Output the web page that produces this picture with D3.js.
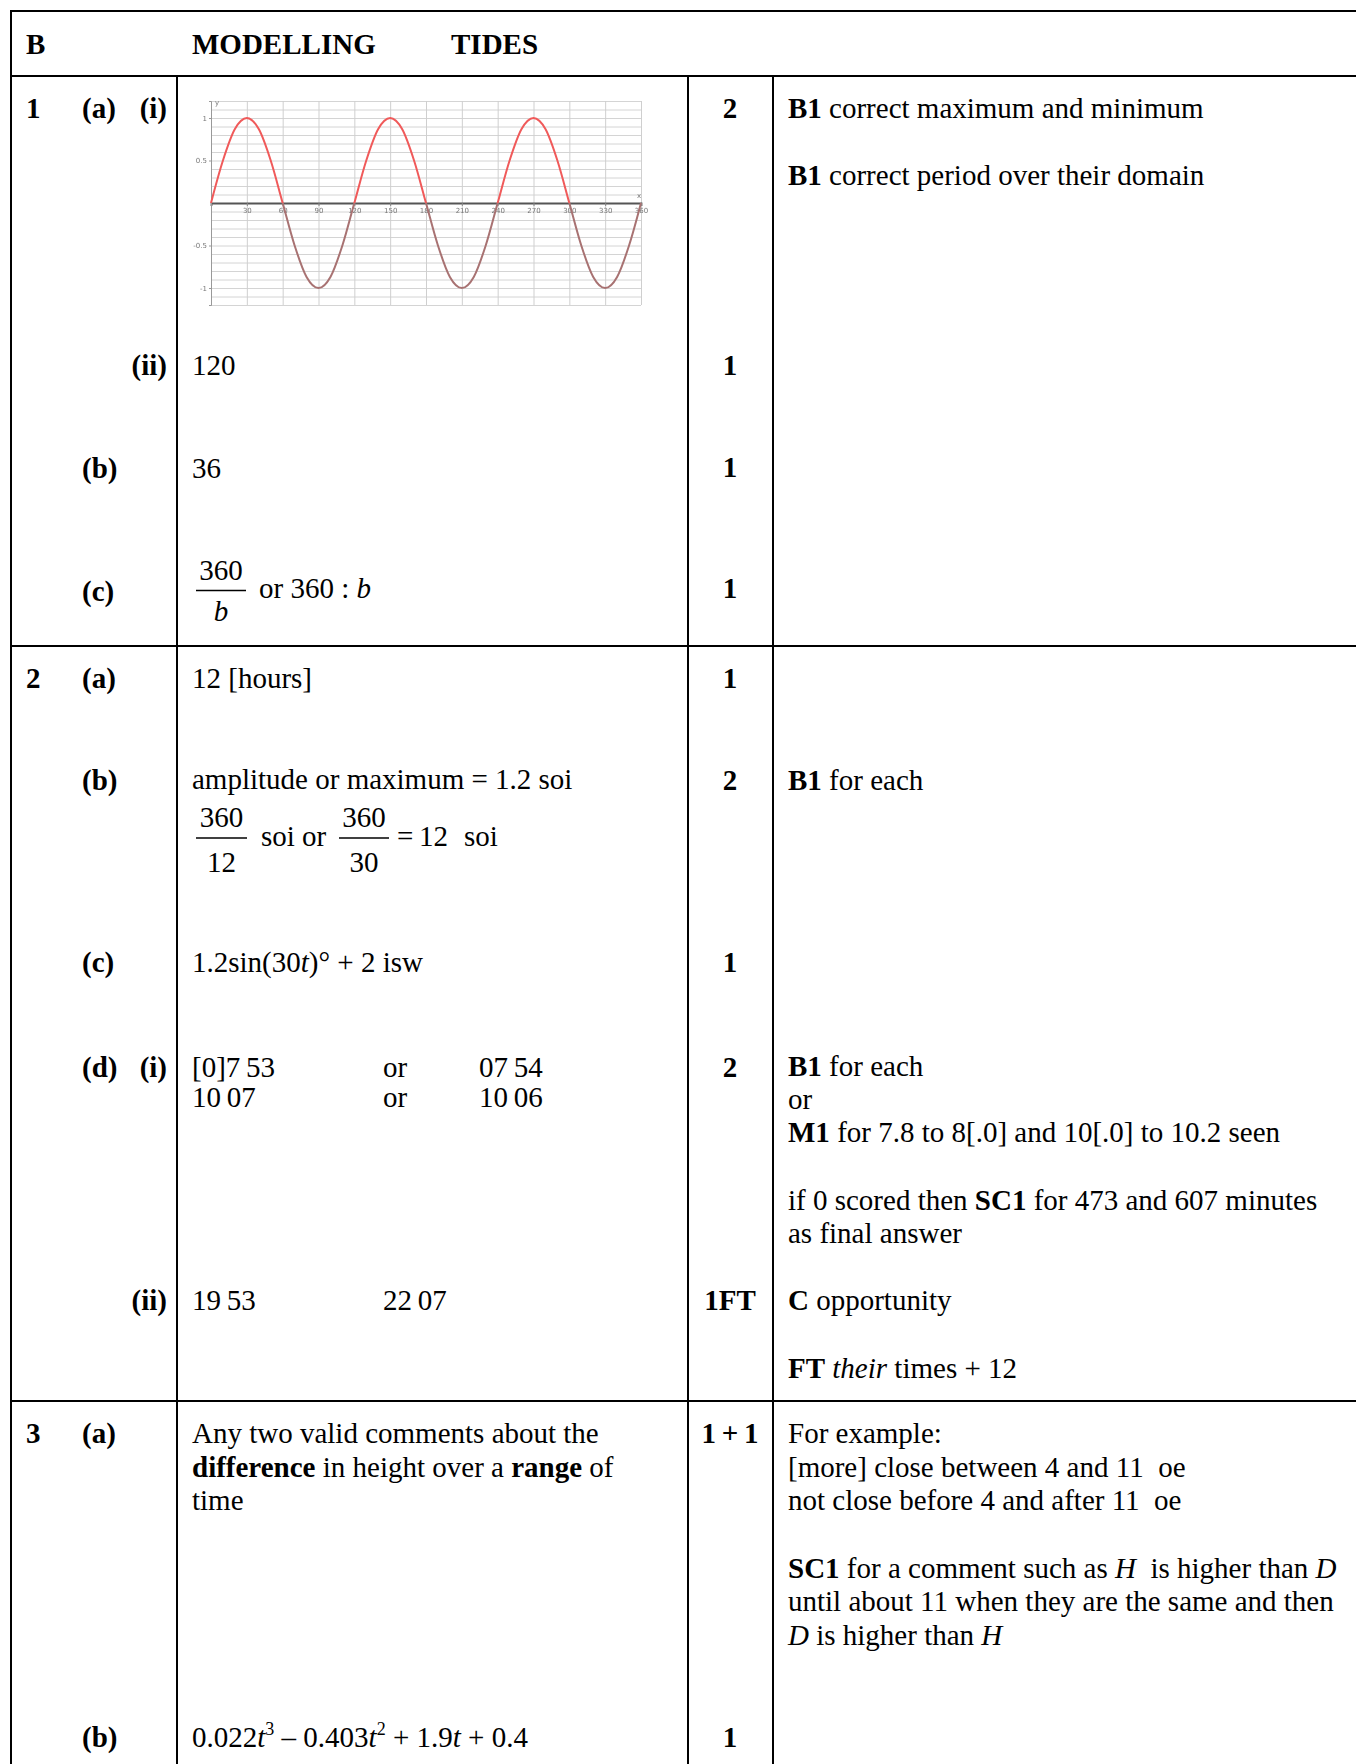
<!DOCTYPE html>
<html>
<head>
<meta charset="utf-8">
<script src="https://cdn.jsdelivr.net/npm/d3@7"></script>
<style>
  body { margin: 0; background: #fff; }
  text { font-family: "Liberation Serif", "Times New Roman", serif; font-size: 29px; fill: #000; white-space: pre; }
  .tiny text { font-family: "DejaVu Sans", sans-serif; font-size: 7px; fill: #777; }
</style>
</head>
<body>
<script>

// sine curve (t in degrees, height)
let tideT = [0,10,20,30,40,50,60,70,80,90,100,110,120,130,140,150,160,170,180,
             190,200,210,220,230,240,250,260,270,280,290,300,310,320,330,340,350,360];
let tideH = [0,0.5,0.87,1,0.87,0.5,0,-0.5,-0.87,-1,-0.87,-0.5,
             0,0.5,0.87,1,0.87,0.5,0,-0.5,-0.87,-1,-0.87,-0.5,
             0,0.5,0.87,1,0.87,0.5,0,-0.5,-0.87,-1,-0.87,-0.5,0];
let xTickLabels = [30,60,90,120,150,180,210,240,270,300,330,360];
let yTickLabels = [1,0.5,-0.5,-1];
let gridY = [-1.2,-1.1,-1,-0.9,-0.8,-0.7,-0.6,-0.5,-0.4,-0.3,-0.2,-0.1,0,
             0.1,0.2,0.3,0.4,0.5,0.6,0.7,0.8,0.9,1,1.1,1.2];
let gridX = [0,30,60,90,120,150,180,210,240,270,300,330,360];

let svg = d3.select("body")
.append("svg")
.attr("width", 1356)
.attr("height", 1764);

//////////////// table lines ////////////////
let hLines = [11, 76, 646, 1401];
let vLines = [[11, 11], [177, 76], [688, 76], [773, 76]];

hLines.forEach(y => {
  svg.append("line")
  .attr("x1", 10).attr("x2", 1356)
  .attr("y1", y).attr("y2", y)
  .style("stroke", "#000").style("stroke-width", 2);
});
vLines.forEach(v => {
  svg.append("line")
  .attr("x1", v[0]).attr("x2", v[0])
  .attr("y1", v[1]).attr("y2", 1764)
  .style("stroke", "#000").style("stroke-width", 2);
});

// text with bold / italic / superscript pieces
function rich(x, y, parts, anchor) {
  let t = svg.append("text")
  .attr("x", x)
  .attr("y", y)
  .attr("text-anchor", anchor || "start");
  let up = false;
  parts.forEach(p => {
    if (typeof p == "string") p = [p, ""];
    let s = t.append("tspan").text(p[0]);
    if (p[1].includes("b")) s.style("font-weight", "bold");
    if (p[1].includes("i")) s.style("font-style", "italic");
    if (p[1].includes("s")) { s.attr("dy", -12).style("font-size", "18px"); up = true; }
    else if (up) { s.attr("dy", 12); up = false; }
  });
  return t;
}

// stacked fraction
function frac(x1, x2, num, den, yNum, yBar, yDen, denStyle) {
  let cx = (x1 + x2) / 2;
  rich(cx, yNum, [num], "middle");
  svg.append("line")
  .attr("x1", x1).attr("x2", x2)
  .attr("y1", yBar).attr("y2", yBar)
  .style("stroke", "#000").style("stroke-width", 1.5);
  rich(cx, yDen, [[den, denStyle || ""]], "middle");
}

//header
rich(26, 54, [["B", "b"]]);
rich(192, 54, [["MODELLING", "b"]]);
rich(451, 54, [["TIDES", "b"]]);

//question labels
let qLabels = [
  ["1", 26, 118], ["(a)", 82, 118], ["(i)", 167, 118, "end"],
  ["(ii)", 167, 375, "end"], ["(b)", 82, 478], ["(c)", 82, 601],
  ["2", 26, 688], ["(a)", 82, 688], ["(b)", 82, 790], ["(c)", 82, 972],
  ["(d)", 82, 1077], ["(i)", 167, 1077, "end"], ["(ii)", 167, 1310, "end"],
  ["3", 26, 1443], ["(a)", 82, 1443], ["(b)", 82, 1747]
];
qLabels.forEach(q => rich(q[1], q[2], [[q[0], "b"]], q[3]));

//marks column
let marks = [
  ["2", 118], ["1", 375], ["1", 477], ["1", 598],
  ["1", 688], ["2", 790], ["1", 972], ["2", 1077], ["1FT", 1310],
  ["1\u2009+\u20091", 1443], ["1", 1747]
];
marks.forEach(m => rich(730, m[1], [[m[0], "b"]], "middle"));

//answers
rich(192, 375, ["120"]);
rich(192, 478, ["36"]);
frac(196, 246, "360", "b", 580, 590.5, 621, "i");
rich(259, 598, ["or 360 : ", ["b", "i"]]);
rich(192, 688, ["12 [hours]"]);
rich(192, 789, ["amplitude or maximum = 1.2 soi"]);
frac(196, 247, "360", "12", 827, 838, 872);
rich(261, 846, ["soi or"]);
frac(339, 389, "360", "30", 827, 838, 872);
rich(397, 846, ["="]);
rich(419, 846, ["12"]);
rich(464, 846, ["soi"]);
rich(192, 972, ["1.2sin(30", ["t", "i"], ")° + 2 isw"]);
rich(192, 1077, ["[0]7\u200953"]);
rich(383, 1077, ["or"]);
rich(479, 1077, ["07\u200954"]);
rich(192, 1107, ["10\u200907"]);
rich(383, 1107, ["or"]);
rich(479, 1107, ["10\u200906"]);
rich(192, 1310, ["19\u200953"]);
rich(383, 1310, ["22\u200907"]);
rich(192, 1443, ["Any two valid comments about the"]);
rich(192, 1477, [["difference", "b"], " in height over a ", ["range", "b"], " of"]);
rich(192, 1510, ["time"]);
rich(192, 1747, ["0.022", ["t", "i"], ["3", "s"], " \u2013 0.403", ["t", "i"], ["2", "s"],
                 " + 1.9", ["t", "i"], " + 0.4"]);

//guidance column
let guide = [
  [118, [["B1", "b"], " correct maximum and minimum"]],
  [185, [["B1", "b"], " correct period over their domain"]],
  [790, [["B1", "b"], " for each"]],
  [1076, [["B1", "b"], " for each"]],
  [1109, ["or"]],
  [1142, [["M1", "b"], " for 7.8 to 8[.0] and 10[.0] to 10.2 seen"]],
  [1210, ["if 0 scored then ", ["SC1", "b"], " for 473 and 607 minutes"]],
  [1243, ["as final answer"]],
  [1310, [["C", "b"], " opportunity"]],
  [1378, [["FT", "b"], " ", ["their", "i"], " times + 12"]],
  [1443, ["For example:"]],
  [1477, ["[more] close between 4 and 11  oe"]],
  [1510, ["not close before 4 and after 11  oe"]],
  [1578, [["SC1", "b"], " for a comment such as ", ["H", "i"], "  is higher than ", ["D", "i"]]],
  [1611, ["until about 11 when they are the same and then"]],
  [1645, [["D", "i"], " is higher than ", ["H", "i"]]]
];
guide.forEach(g => rich(788, g[0], g[1]));

//////////////// small graph ////////////////
let x1Scale = d3.scaleLinear()
.domain([0, 360])
.range([211, 641]);

let y1Scale = d3.scaleLinear()
.domain([-1.2, 1.2])
.range([305, 101]);

svg.append("defs")
.append("filter")
.attr("id", "soft")
.append("feGaussianBlur")
.attr("stdDeviation", 0.6);

let graph = svg.append("g")
.attr("class", "tiny")
.attr("filter", "url(#soft)");

//grid
graph.append("g")
.attr("transform", "translate(211, 0)")
.call(d3.axisLeft(y1Scale).tickValues(gridY).tickSize(-430).tickFormat(""))
.call(g => g.select(".domain").remove())
.call(g => g.selectAll("line").style("stroke", "#d4d4d4"));

graph.append("g")
.attr("transform", "translate(0, 305)")
.call(d3.axisBottom(x1Scale).tickValues(gridX).tickSize(-204).tickFormat(""))
.call(g => g.select(".domain").remove())
.call(g => g.selectAll("line").style("stroke", "#cfcfcf"));

//axes
let xAxis = graph.append("g")
.attr("transform", "translate(0, " + y1Scale(0) + ")")
.call(d3.axisBottom(x1Scale).tickValues(xTickLabels).tickSize(3).tickPadding(2));
xAxis.select(".domain").style("stroke", "#555").style("stroke-width", 1.8);
xAxis.selectAll("line").style("stroke", "#888");

let yAxis = graph.append("g")
.attr("transform", "translate(211, 0)")
.call(d3.axisLeft(y1Scale).tickValues(yTickLabels).tickFormat(d => d).tickSize(2).tickPadding(2));
yAxis.select(".domain").style("stroke", "#999");
yAxis.selectAll("line").style("stroke", "#999");

graph.append("text").attr("x", 215).attr("y", 105).text("y");
graph.append("text").attr("x", 637).attr("y", 198).text("x");

//curve: bright red above the axis, duller below (as in the scan)
let clip = graph.append("clipPath").attr("id", "upper");
clip.append("rect")
.attr("x", 200).attr("y", 90)
.attr("width", 460).attr("height", y1Scale(0) - 90);
let clip2 = graph.append("clipPath").attr("id", "lower");
clip2.append("rect")
.attr("x", 200).attr("y", y1Scale(0))
.attr("width", 460).attr("height", 120);

let tideLine = d3.line()
.x((d, i) => x1Scale(tideT[i]))
.y(d => y1Scale(d))
.curve(d3.curveCardinal);

graph.append("path")
.attr("d", tideLine(tideH))
.attr("clip-path", "url(#upper)")
.style("fill", "none")
.style("stroke", "#f05a5a")
.style("stroke-width", 2);

graph.append("path")
.attr("d", tideLine(tideH))
.attr("clip-path", "url(#lower)")
.style("fill", "none")
.style("stroke", "#a87272")
.style("stroke-width", 2);

</script>
</body>
</html>
